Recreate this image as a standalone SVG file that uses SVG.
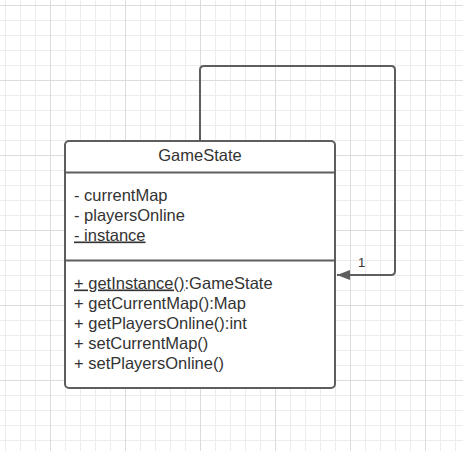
<svg xmlns="http://www.w3.org/2000/svg" width="463" height="451" viewBox="0 0 463 451">
<defs>
<pattern id="minor" width="15" height="15" patternUnits="userSpaceOnUse" x="5" y="5">
<path d="M0 0.5H15M0.5 0V15" fill="none" stroke="#ececec" stroke-width="1"/>
</pattern>
<pattern id="major" width="75" height="75" patternUnits="userSpaceOnUse" x="50" y="5">
<path d="M0 0.5H75M0.5 0V75" fill="none" stroke="#dcdcdc" stroke-width="1"/>
</pattern>
<marker id="arrow" markerWidth="14" markerHeight="12" refX="13" refY="6" orient="auto" markerUnits="userSpaceOnUse">
<path d="M0 1L13 6L0 11Z" fill="#5e5e5e"/>
</marker>
</defs>
<style>
.t{font-family:"Liberation Sans",Arial,sans-serif;font-size:16.5px;fill:#333}
.box{fill:#fff;stroke:#5e5e5e;stroke-width:2}
.ln{stroke:#5e5e5e;stroke-width:2;fill:none}
</style>
<rect width="463" height="451" fill="#fff"/>
<rect width="463" height="451" fill="url(#minor)"/>
<rect width="463" height="451" fill="url(#major)"/>
<g id="connectors">
<path class="ln" d="M200 141V70Q200 66 204 66H391Q395 66 395 70V271Q395 275 391 275H337" marker-end="url(#arrow)"/>
<text x="358" y="267" style="font-family:'Liberation Sans',Arial,sans-serif;font-size:13px;fill:#333">1</text>
</g>
<g id="GameState">
<rect class="box" x="65" y="141" width="270" height="247" rx="4"/>
<line class="ln" x1="65" y1="172.5" x2="335" y2="172.5"/>
<line class="ln" x1="65" y1="260.5" x2="335" y2="260.5"/>
<text class="t" x="200" y="161" text-anchor="middle">GameState</text>
<text class="t" x="74" y="200.5">- currentMap</text>
<text class="t" x="74" y="220.5">- playersOnline</text>
<text class="t" x="74" y="240.5" text-decoration="underline">- instance</text>
<text class="t" x="74" y="288.5"><tspan text-decoration="underline">+ getInstance()</tspan>:GameState</text>
<text class="t" x="74" y="308.5">+ getCurrentMap():Map</text>
<text class="t" x="74" y="328.5">+ getPlayersOnline():int</text>
<text class="t" x="74" y="348.5">+ setCurrentMap()</text>
<text class="t" x="74" y="368.5">+ setPlayersOnline()</text>
</g>
</svg>
